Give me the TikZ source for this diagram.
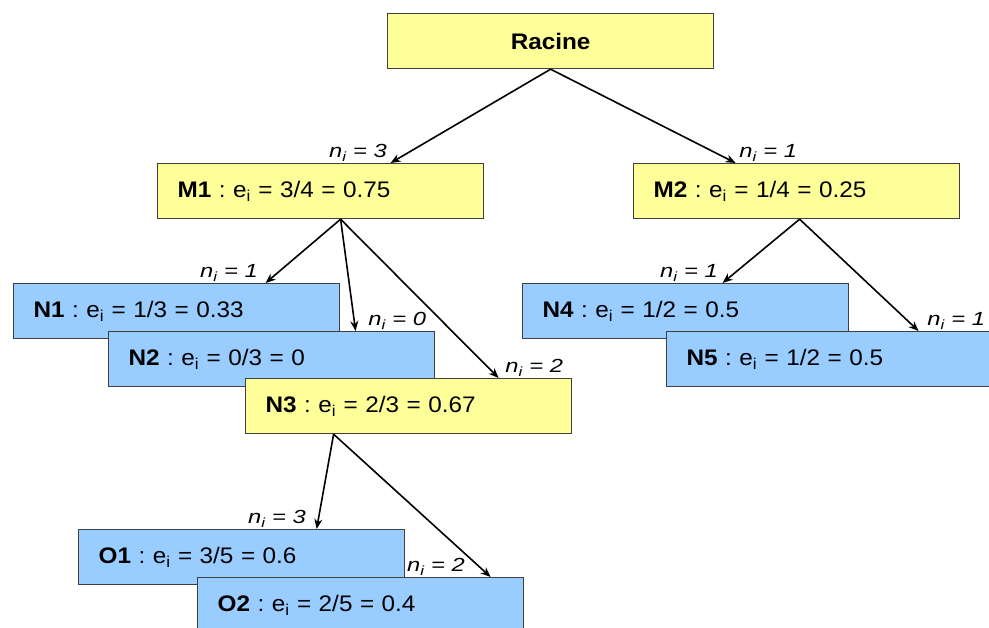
\documentclass[tikz,border=0pt]{standalone}
\usepackage{fontspec}
\setmainfont{Liberation Sans}
\newfontfamily\boxfont[FakeStretch=1.08]{Liberation Sans}
\newfontfamily\labfont[FakeStretch=1.25]{Liberation Sans}
\usepackage{xcolor}
\usetikzlibrary{arrows.meta}
\frenchspacing

\definecolor{jaune}{RGB}{255,255,153}
\definecolor{bleu}{RGB}{153,204,255}
\newcommand{\ei}{e\textsubscript{i}}
\newcommand{\nval}[1]{n\textsubscript{i} = #1}

\begin{document}
\begin{tikzpicture}[x=1pt, y=-1pt,
    box/.style={draw=black!75, line width=1.2pt, minimum width=326pt, minimum height=55pt,
      inner xsep=20pt, inner ysep=0pt, text width=286pt, align=left, anchor=north west,
      font=\boxfont\fontsize{22.5}{27}\selectfont},
    yel/.style={box, fill=jaune},
    blu/.style={box, fill=bleu},
    arr/.style={-{Stealth[length=10pt,width=8pt]}, line width=1.6pt},
    lab/.style={font=\labfont\fontsize{19}{23}\selectfont\itshape, inner sep=1pt}]
      \clip (0,0) rectangle (989,628);
      % boites
      \node[yel, align=center, font=\boxfont\fontsize{22.5}{27}\selectfont\bfseries] (racine) at (387,13) {Racine};
      \node[yel] (m1) at (157,163) {\textbf{M1} : \ei{} = 3/4 = 0.75};
      \node[yel] (m2) at (633,163) {\textbf{M2} : \ei{} = 1/4 = 0.25};
      \node[blu] (n1) at (13,283)  {\textbf{N1} : \ei{} = 1/3 = 0.33};
      \node[blu] (n2) at (108,331) {\textbf{N2} : \ei{} = 0/3 = 0};
      \node[yel] (n3) at (245,378) {\textbf{N3} : \ei{} = 2/3 = 0.67};
      \node[blu] (n4) at (522,283) {\textbf{N4} : \ei{} = 1/2 = 0.5};
      \node[blu] (n5) at (666,331) {\textbf{N5} : \ei{} = 1/2 = 0.5};
      \node[blu] (o1) at (78,529)  {\textbf{O1} : \ei{} = 3/5 = 0.6};
      \node[blu] (o2) at (197,577) {\textbf{O2} : \ei{} = 2/5 = 0.4};
      % fleches
      \draw[arr] (racine.south) -- ([xshift=70]m1.north)
        node[lab, anchor=south east, xshift=-2] {\nval{3}};
      \draw[arr] (racine.south) -- ([xshift=-61]m2.north)
        node[lab, anchor=south west, xshift=2] {\nval{1}};
      \draw[arr] ([xshift=20]m1.south) -- ([xshift=89]n1.north)
        node[lab, anchor=south east, xshift=-6] {\nval{1}};
      \draw[arr] ([xshift=20]m1.south) -- ([xshift=84]n2.north)
        node[lab, anchor=south west, xshift=11] {\nval{0}};
      \draw[arr] ([xshift=20]m1.south) -- ([xshift=90]n3.north)
        node[lab, anchor=south west, xshift=5] {\nval{2}};
      \draw[arr] ([xshift=3]m2.south) -- ([xshift=37]n4.north)
        node[lab, anchor=south east, xshift=-3] {\nval{1}};
      \draw[arr] ([xshift=3]m2.south) -- ([xshift=89]n5.north)
        node[lab, anchor=south west, xshift=7] {\nval{1}};
      \draw[arr] ([xshift=-75]n3.south) -- ([xshift=75]o1.north)
        node[lab, anchor=south east, xshift=-9] {\nval{3}};
      \draw[arr] ([xshift=-75]n3.south) -- ([xshift=130]o2.north)
        node[lab, anchor=south east, xshift=-24] {\nval{2}};
    \end{tikzpicture}
\end{document}
